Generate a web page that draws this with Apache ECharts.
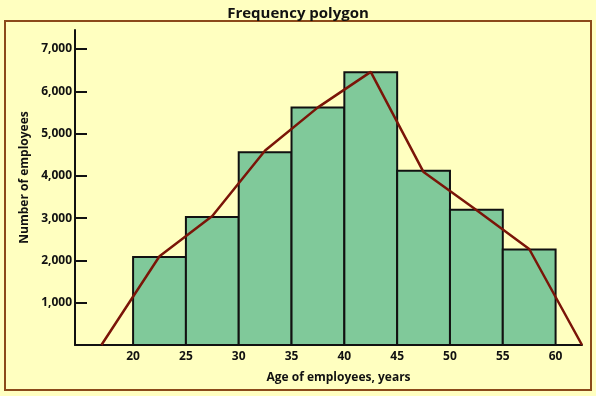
<!DOCTYPE html>
<html>
<head>
<meta charset="utf-8">
<script src="https://cdn.jsdelivr.net/npm/echarts@6/dist/echarts.min.js"></script>
<style>
html,body{margin:0;padding:0;background:#FFFFC0;}
#chart{width:596px;height:396px;}
</style>
</head>
<body>
<div id="chart"></div>
<script>
// Age bins (years) and number of employees
const binStart = [20, 25, 30, 35, 40, 45, 50, 55];
const binEnd   = [25, 30, 35, 40, 45, 50, 55, 60];
const counts   = [2080, 3030, 4560, 5620, 6450, 4120, 3200, 2260];

// Frequency polygon vertices (as drawn)
const polyX = [17, 22.5, 27.5, 32.5, 37.5, 42.5, 47.5, 52.5, 57.5, 62.5];
const polyY = [0, 2100, 3050, 4600, 5620, 6460, 4090, 3195, 2270, 0];

// Tick labels
const xTicks = [20, 25, 30, 35, 40, 45, 50, 55, 60];
const yTicks = [1000, 2000, 3000, 4000, 5000, 6000, 7000];

const FONT = '"Open Sans", "Noto Sans", sans-serif';
const INK = '#111111';

const chart = echarts.init(document.getElementById('chart'), null, {renderer: 'canvas'});

const barData = binStart.map((s, i) => [s, binEnd[i], counts[i]]);
const lineData = polyX.map((x, i) => [x, polyY[i]]);

chart.setOption({
  backgroundColor: '#FFFFC0',
  animation: false,
  title: {
    text: 'Frequency polygon',
    left: 'center',
    top: 1,
    textStyle: {fontFamily: FONT, fontWeight: 'bold', fontSize: 15, color: INK}
  },
  graphic: [{
    type: 'rect',
    shape: {x: 5, y: 21, width: 586, height: 369},
    style: {fill: 'none', stroke: '#8B4A1A', lineWidth: 2},
    silent: true,
    z: -1
  }],
  grid: {left: 75, right: 14, top: 30, bottom: 51},
  xAxis: {
    type: 'value',
    min: 14.5,
    max: 62.5,
    name: 'Age of employees, years',
    nameLocation: 'middle',
    nameGap: 27,
    nameTextStyle: {fontFamily: FONT, fontWeight: 'bold', fontSize: 12, color: INK, padding: [0, 0, 0, 20]},
    axisLine: {onZero: false, lineStyle: {color: INK, width: 2}},
    axisTick: {show: false},
    splitLine: {show: false},
    axisLabel: {
      customValues: xTicks,
      fontFamily: FONT, fontWeight: 'bold', fontSize: 12, color: INK, margin: 6
    }
  },
  yAxis: {
    type: 'value',
    min: 0,
    max: 7450,
    name: 'Number of employees',
    nameLocation: 'middle',
    nameGap: 43,
    nameTextStyle: {fontFamily: FONT, fontWeight: 'bold', fontSize: 12, color: INK, padding: [0, 0, 0, 20]},
    axisLine: {show: true, lineStyle: {color: INK, width: 2}},
    axisTick: {show: true, inside: true, length: 12, customValues: yTicks, lineStyle: {color: INK, width: 2}},
    splitLine: {show: false},
    axisLabel: {
      customValues: yTicks,
      margin: 3,
      fontFamily: FONT, fontWeight: 'bold', fontSize: 12, color: INK,
      formatter: v => v.toLocaleString('en-US')
    }
  },
  series: [{
    type: 'custom',
    data: barData,
    encode: {x: [0, 1], y: 2},
    z: 2,
    renderItem: function (params, api) {
      const p0 = api.coord([api.value(0), api.value(2)]);
      const p1 = api.coord([api.value(1), 0]);
      return {
        type: 'rect',
        shape: {x: p0[0], y: p0[1], width: p1[0] - p0[0], height: p1[1] - p0[1]},
        style: {fill: '#80C99A', stroke: INK, lineWidth: 2}
      };
    }
  }, {
    type: 'line',
    data: lineData,
    symbol: 'none',
    z: 3,
    lineStyle: {color: '#7A1508', width: 2.5}
  }]
});
</script>
</body>
</html>
